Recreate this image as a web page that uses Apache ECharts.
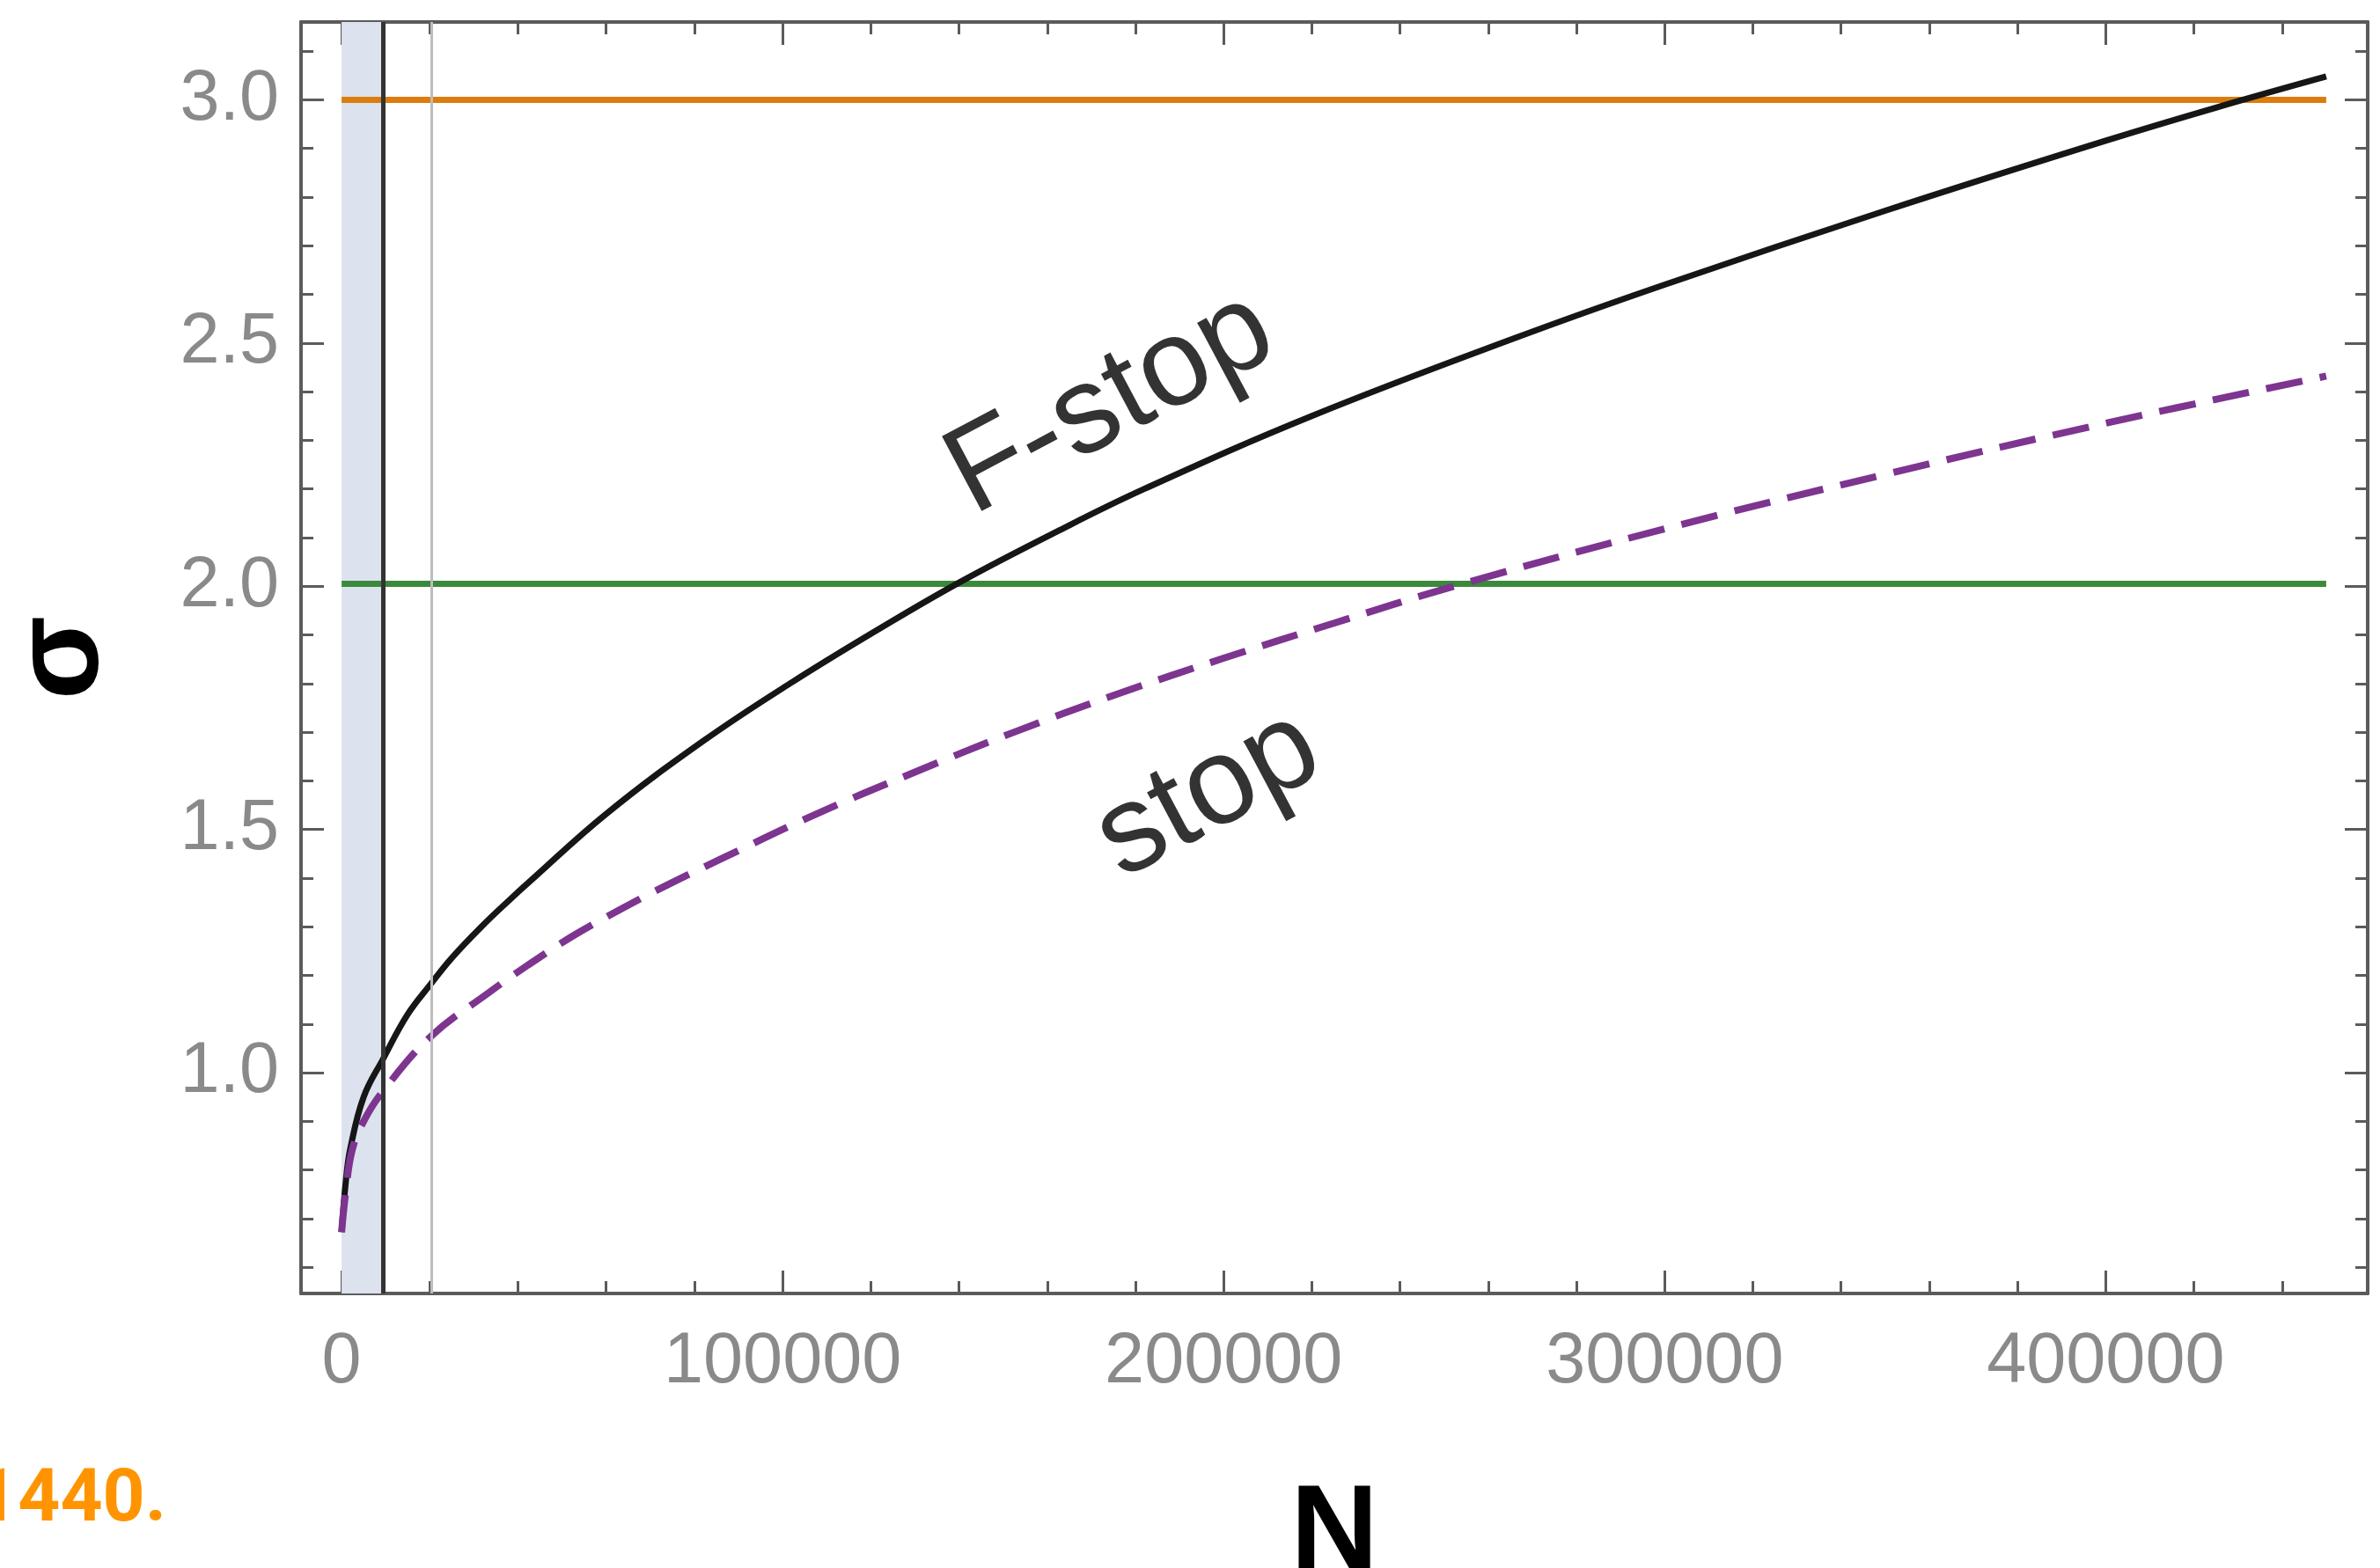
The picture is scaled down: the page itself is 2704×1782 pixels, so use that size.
<!DOCTYPE html>
<html>
<head>
<meta charset="utf-8">
<script src="https://cdn.jsdelivr.net/npm/echarts@6/dist/echarts.min.js"></script>
<style>
html, body { margin: 0; padding: 0; background: #fff; }
#chart { width: 2704px; height: 1782px; }
</style>
</head>
<body>
<div id="chart"></div>
<script>
// values
var fstopN = [0, 1000, 2000, 5000, 9400, 15000, 20200, 25000, 31700, 38300, 42300, 60000, 82200, 102200, 122200, 140100, 162100, 182000, 220000, 266000, 300000, 350000, 400000, 425000, 450000];
var fstopSigma = [0.672, 0.78, 0.845, 0.95, 1.028, 1.12, 1.182, 1.236, 1.300, 1.357, 1.390, 1.532, 1.683, 1.803, 1.914, 2.008, 2.112, 2.200, 2.350, 2.510, 2.620, 2.772, 2.916, 2.984, 3.048];

var stopN = [0, 1000, 2400, 5000, 9400, 20200, 33300, 42400, 53000, 63300, 73900, 85500, 107200, 129500, 152200, 175200, 200000, 225000, 253000, 300000, 350000, 400000, 450000];
var stopSigma = [0.672, 0.76, 0.841, 0.90, 0.962, 1.074, 1.164, 1.222, 1.284, 1.336, 1.386, 1.437, 1.530, 1.616, 1.699, 1.776, 1.852, 1.924, 2.002, 2.118, 2.230, 2.335, 2.432];

var levelSigma = [3.0, 2.005];          // orange, green
var levelSpan = [0, 450000];
var bandRange = [0, 9400];               // shaded region
var markN = [9400, 20300];               // dark and light vertical lines

var noteText = ['F-stop', 'stop'];
var noteN = [174450, 196550];
var noteSigma = [2.375, 1.571];

var xRange = [-9200, 459400];
var yRange = [0.546, 3.16];
var xMajor = [0, 100000, 200000, 300000, 400000];
var xMinor = [20000, 40000, 60000, 80000, 120000, 140000, 160000, 180000, 220000, 240000, 260000, 280000, 320000, 340000, 360000, 380000, 420000, 440000];
var yMajor = [1.0, 1.5, 2.0, 2.5, 3.0];
var yMinor = [0.6, 0.7, 0.8, 0.9, 1.1, 1.2, 1.3, 1.4, 1.6, 1.7, 1.8, 1.9, 2.1, 2.2, 2.3, 2.4, 2.6, 2.7, 2.8, 2.9, 3.1];

var frameColor = '#5b5b5b';
var tickFont = 'Liberation Sans';

function pair(xs, ys) {
    return xs.map(function(x, i) { return [x, ys[i]]; });
}

function frameAxis(isX, position, ticks, len, withLine, extra) {
    var range = isX ? xRange : yRange;
    var axis = {
        type: 'value',
        position: position,
        min: range[0],
        max: range[1],
        axisLine: { show: withLine, onZero: false, lineStyle: { color: frameColor, width: 4 } },
        axisTick: { show: true, inside: true, length: len, customValues: ticks, lineStyle: { color: frameColor, width: 3 } },
        axisLabel: { show: false },
        splitLine: { show: false },
        minorTick: { show: false }
    };
    if (extra) {
        for (var k in extra) axis[k] = extra[k];
    }
    return axis;
}

var chart = echarts.init(document.getElementById('chart'));

chart.setOption({
    animation: false,
    backgroundColor: '#ffffff',
    grid: { left: 342, right: 14, top: 25, bottom: 312, containLabel: false, outerBoundsMode: 'none' },
    xAxis: [
        frameAxis(true, 'bottom', xMajor, 26, true, {
            axisLabel: {
                show: true, customValues: xMajor, margin: 38,
                fontSize: 81, color: '#8a8a8a', fontFamily: tickFont,
                formatter: function(v) { return String(v); }
            },
            name: 'N',
            nameLocation: 'middle',
            nameGap: 206,
            nameTextStyle: { fontSize: 138, fontWeight: 'bold', color: '#000', fontFamily: 'Liberation Sans' }
        }),
        frameAxis(true, 'bottom', xMinor, 14, false),
        frameAxis(true, 'top', xMajor, 26, true),
        frameAxis(true, 'top', xMinor, 14, false)
    ],
    yAxis: [
        frameAxis(false, 'left', yMajor, 26, true, {
            axisLabel: {
                show: true, customValues: yMajor, margin: 25,
                fontSize: 81, color: '#8a8a8a', fontFamily: tickFont,
                formatter: function(v) { return v.toFixed(1); }
            },
            name: 'σ',
            nameLocation: 'middle',
            nameRotate: 90,
            nameGap: 200,
            nameTextStyle: { fontSize: 140, fontWeight: 'bold', color: '#000', fontFamily: 'Liberation Sans' }
        }),
        frameAxis(false, 'left', yMinor, 14, false),
        frameAxis(false, 'right', yMajor, 26, true),
        frameAxis(false, 'right', yMinor, 14, false)
    ],
    series: [
        {
            type: 'line',
            data: pair(levelSpan, [levelSigma[0], levelSigma[0]]),
            showSymbol: false,
            lineStyle: { color: '#dc7c0e', width: 7 },
            z: 2,
            markArea: {
                silent: true,
                itemStyle: { color: '#dde3ee' },
                data: [[{ xAxis: bandRange[0] }, { xAxis: bandRange[1] }]]
            },
            markLine: {
                silent: true,
                symbol: ['none', 'none'],
                label: { show: false },
                data: [
                    { xAxis: markN[0], lineStyle: { color: '#333333', width: 5, type: 'solid' } },
                    { xAxis: markN[1], lineStyle: { color: '#bdbdbd', width: 3, type: 'solid' } }
                ]
            }
        },
        {
            type: 'line',
            data: pair(levelSpan, [levelSigma[1], levelSigma[1]]),
            showSymbol: false,
            lineStyle: { color: '#3b8a3b', width: 7 },
            z: 2
        },
        {
            type: 'line',
            name: 'F-stop',
            data: pair(fstopN, fstopSigma),
            showSymbol: false,
            smooth: 0.4,
            lineStyle: { color: '#161616', width: 7 },
            z: 3
        },
        {
            type: 'line',
            name: 'stop',
            data: pair(stopN, stopSigma),
            showSymbol: false,
            smooth: 0.4,
            lineStyle: { color: '#7d3590', width: 8, type: [42, 20] },
            z: 4
        },
        {
            type: 'scatter',
            data: pair(noteN, noteSigma),
            symbolSize: 1,
            itemStyle: { color: 'rgba(0,0,0,0)' },
            label: {
                show: true,
                position: 'inside',
                rotate: 28,
                fontSize: 140,
                color: '#000000',
                textBorderWidth: 0,
                textShadowBlur: 0,
                fontFamily: 'Liberation Sans',
                formatter: function(p) { return noteText[p.dataIndex]; }
            },
            z: 5
        }
    ],
    graphic: [{
        type: 'text',
        x: -28,
        y: 1707,
        style: {
            text: '1440.',
            fill: '#ff9400',
            fontSize: 84,
            fontWeight: 'bold',
            fontFamily: 'Roboto',
            verticalAlign: 'middle'
        }
    }]
});

window.addEventListener('resize', function() {
    chart.resize();
});
</script>
</body>
</html>
